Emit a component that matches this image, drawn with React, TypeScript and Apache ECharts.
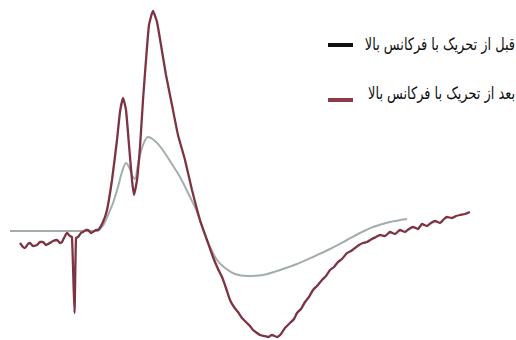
import React, { useEffect, useRef } from "react";
import * as echarts from "echarts";

// time axis (arbitrary units) and amplitude (arbitrary units, baseline 0)
const beforeT = [10, 40, 70, 97, 100, 104, 108, 113, 118, 122, 126, 129, 132, 135, 138, 143, 148, 155, 162, 170, 180, 190, 197, 203, 210, 217, 225, 235, 247, 263, 280, 297, 313, 330, 347, 360, 373, 390, 407];
const beforeA = [0, 0, 0, 0, 2, 7, 16, 28, 44, 59, 68, 64, 56, 52, 67, 86, 94, 90, 82, 70, 54, 34, 19, 1, -16, -29, -37, -43, -45, -44, -39, -33, -26, -18, -9, -2, 4, 9, 12];

const afterT = [20, 23, 25, 28, 30, 33, 37, 40, 43, 46, 50, 53, 57, 60, 62, 65, 67, 70, 72, 74.5, 76, 78, 81, 83, 86, 88, 91, 93, 96, 98, 103, 107, 112, 117, 120, 123, 126, 129, 132, 134, 137, 140, 143, 146, 149, 153, 157, 161, 166, 172, 178, 185, 192, 200, 207, 213, 218, 222, 226, 230, 234, 238, 242, 247, 250, 253, 257, 260, 264, 268, 272, 277, 281, 285, 290, 294, 297, 301, 305, 309, 313, 317, 322, 326, 330, 334, 338, 342, 347, 351, 355, 359, 363, 367, 372, 376, 380, 385, 390, 395, 400, 405, 409, 413, 418, 422, 427, 431, 435, 440, 444, 447, 452, 456, 460, 465, 470];
const afterA = [-12, -16, -17, -13, -12, -15, -14, -11, -11, -14, -12, -10, -9, -12, -11, -5, -2, -5, -6, -82, -7, -6, -2, -1, 1, 1, -2, -1, 1, 1, 9, 21, 51, 91, 119, 133, 121, 86, 51, 36, 51, 84, 131, 171, 206, 220, 209, 186, 156, 126, 96, 71, 41, 11, -9, -26, -38, -46, -57, -69, -76, -81, -87, -92, -95, -99, -102, -104, -105, -106, -104, -106, -103, -97, -92, -88, -82, -78, -71, -66, -59, -55, -49, -45, -39, -36, -31, -28, -22, -20, -17, -14, -12, -11, -8, -6, -4, -5, -1, -3, 1, -1, 2, 4, 2, 7, 5, 8, 10, 8, 12, 14, 13, 15, 16, 17, 19];

const legendNames = ["قبل از تحریک با فرکانس بالا", "بعد از تحریک با فرکانس بالا"];
const legendColors = ["#111111", "#8a3a48"];

export default function App() {
  const ref = useRef<HTMLDivElement>(null);
  useEffect(() => {
    const chart = echarts.init(ref.current!, null, { renderer: "svg" });
    chart.setOption({
      animation: false,
      backgroundColor: "#ffffff",
      grid: { left: 0, right: 0, top: 0, bottom: 0 },
      xAxis: { type: "value", min: 0, max: 516, show: false },
      yAxis: { type: "value", min: -109, max: 231, show: false },
      series: [
        {
          name: legendNames[0],
          type: "line",
          data: beforeT.map((t, i) => [t, beforeA[i]]),
          showSymbol: false,
          smooth: 0.3,
          lineStyle: { color: "#a4acac", width: 2 },
        },
        {
          name: legendNames[1],
          type: "line",
          data: afterT.map((t, i) => [t, afterA[i]]),
          showSymbol: false,
          smooth: 0.15,
          lineStyle: { color: "#7d3442", width: 2.3 },
        },
      ],
      graphic: [
        { type: "rect", shape: { x: 328, y: 43, width: 25, height: 4 }, style: { fill: legendColors[0] } },
        { type: "rect", shape: { x: 328, y: 98, width: 25, height: 4 }, style: { fill: legendColors[1] } },
        {
          type: "text",
          x: 515,
          y: 44,
          scaleX: 0.76,
          style: { text: legendNames[0], fill: "#111", font: "17px 'DejaVu Sans'", align: "right", verticalAlign: "middle" },
        },
        {
          type: "text",
          x: 515,
          y: 93,
          scaleX: 0.76,
          style: { text: legendNames[1], fill: "#111", font: "17px 'DejaVu Sans'", align: "right", verticalAlign: "middle" },
        },
      ],
    });
    return () => chart.dispose();
  }, []);
  return <div ref={ref} style={{ position: "absolute", left: 0, top: 0, width: 516, height: 340 }} />;
}
